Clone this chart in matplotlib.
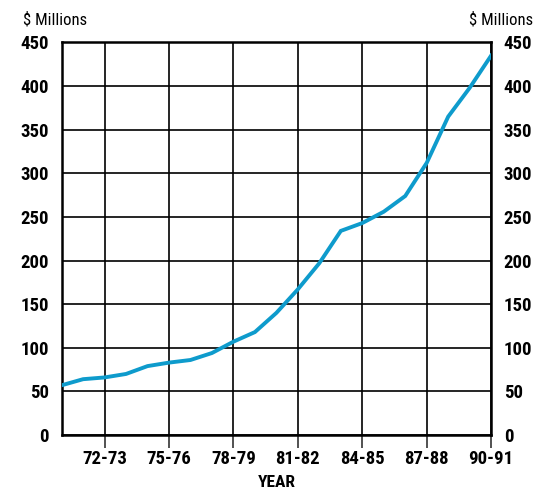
import matplotlib
matplotlib.use("Agg")
import matplotlib.pyplot as plt

years = ["70-71", "71-72", "72-73", "73-74", "74-75", "75-76", "76-77", "77-78",
         "78-79", "79-80", "80-81", "81-82", "82-83", "83-84", "84-85", "85-86",
         "86-87", "87-88", "88-89", "89-90", "90-91"]
values = [57, 64, 66, 70, 79, 83, 86, 94, 107, 118, 140, 167, 197, 234, 243,
          256, 274, 312, 365, 398, 435]
y_ticks = [0, 50, 100, 150, 200, 250, 300, 350, 400, 450]

FAM = ["Liberation Sans Narrow", "Roboto Condensed", "DejaVu Sans"]
plt.rcParams['font.family'] = FAM

fig = plt.figure(figsize=(5.5, 4.94), dpi=100)
ax = fig.add_axes([0.112, 0.1194, 0.781, 0.7946])

x = list(range(len(years)))
ax.plot(x, values, color="#0E9BCC", lw=2.8, solid_joinstyle="miter", zorder=3)

ax.set_xlim(0, len(years) - 1)
ax.set_ylim(0, 450)
tick_idx = list(range(2, len(years), 3))
ax.set_xticks(tick_idx)
ax.set_xticklabels([years[i] for i in tick_idx], fontsize=13.5, fontweight="bold")
ax.set_yticks(y_ticks)
ax.set_yticklabels([str(v) for v in y_ticks], fontsize=13.5, fontweight="bold")

ax.grid(True, color="black", lw=1.2)
ax.set_axisbelow(True)
for s in ax.spines.values():
    s.set_linewidth(1.8)
    s.set_color("black")

ax.tick_params(axis="x", direction="out", length=9, width=1.2, pad=2, color="#333333")
ax.tick_params(axis="y", length=0, pad=9, labelright=True, right=False)

ax.set_xlabel("YEAR", fontsize=12.5, fontweight="bold", labelpad=5)

fig.text(0.042, 0.945, "$ Millions", fontsize=12, ha="left", va="bottom")
fig.text(0.97, 0.945, "$ Millions", fontsize=12, ha="right", va="bottom")

fig.savefig("out.png", dpi=100)
